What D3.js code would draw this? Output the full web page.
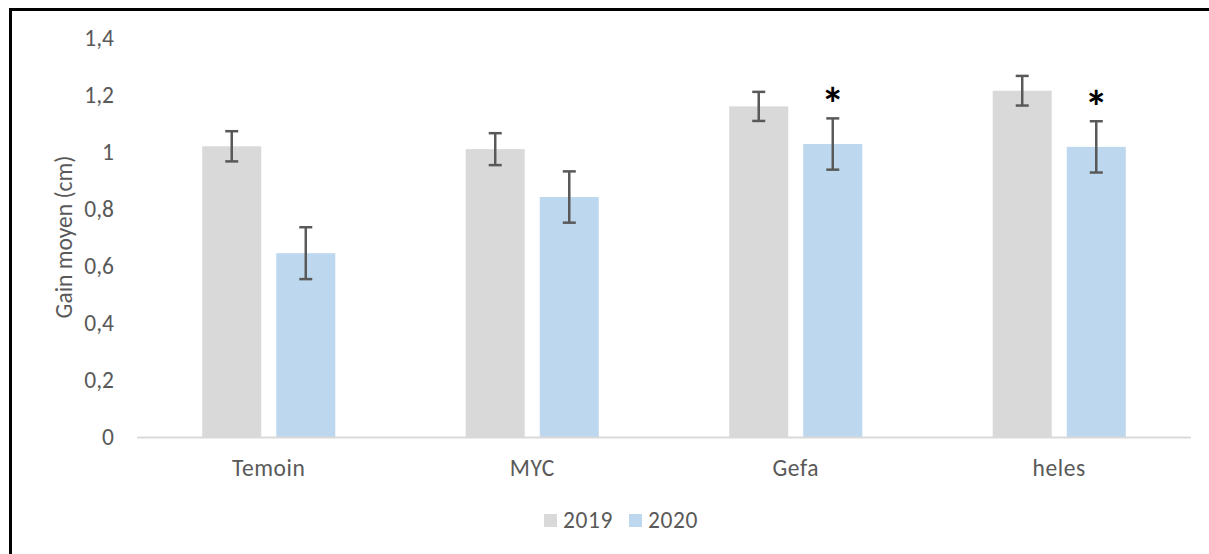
<!DOCTYPE html>
<html><head><meta charset="utf-8">
<script src="https://cdn.jsdelivr.net/npm/d3@7"></script>
<style>
html,body{margin:0;padding:0;background:#fff;overflow:hidden;}
svg{display:block;font-family:Carlito,Lato,"Open Sans",sans-serif;}
</style></head>
<body><svg id="c" width="1209" height="554"></svg>
<script>
const categories = ["Temoin", "MYC", "Gefa", "heles"];
const seriesNames = ["2019", "2020"];
const values2019 = [1.02, 1.01, 1.16, 1.215];
const values2020 = [0.645, 0.842, 1.028, 1.018];
const errors2019 = [0.053, 0.056, 0.051, 0.052];
const errors2020 = [0.091, 0.09, 0.09, 0.09];
const significant2020 = [false, false, true, true];
const yTicks = [0, 0.2, 0.4, 0.6, 0.8, 1, 1.2, 1.4];
const colors = ["#d9d9d9", "#bdd7ee"];

const svg = d3.select("#c");
const textCol = "#595959";
const fs = 23.5;

// outer frame (left and top edges visible)
svg.append("path").attr("d","M10.5,560 V9.5 H1220")
  .attr("fill","none").attr("stroke","#000").attr("stroke-width",3);

const y = d3.scaleLinear().domain([0,1.4]).range([437,38]);
const x = d3.scaleBand().domain(categories).range([137,1191]).paddingInner(0.495).paddingOuter(0.2475);
const xs = d3.scaleBand().domain(seriesNames).range([0,x.bandwidth()]).paddingInner(0.203);

// y tick labels
const fmt = v => d3.format("")(+v.toFixed(1)).replace(".", ",");
svg.append("g").selectAll("text").data(yTicks).join("text")
  .attr("x",114).attr("y",d=>y(d)).attr("dy","0.36em")
  .attr("text-anchor","end").attr("fill",textCol).attr("font-size",fs)
  .text(fmt);

// y label
svg.append("text").attr("transform","translate(72,237) rotate(-90)")
  .attr("text-anchor","middle").attr("fill",textCol).attr("font-size",fs)
  .text("Gain moyen (cm)");

// data rows
const rows = [];
categories.forEach((c,i)=>{
  rows.push({cat:c, s:"2019", v:values2019[i], e:errors2019[i], star:false, col:colors[0]});
  rows.push({cat:c, s:"2020", v:values2020[i], e:errors2020[i], star:significant2020[i], col:colors[1]});
});

svg.append("g").selectAll("rect").data(rows).join("rect")
  .attr("x",d=>x(d.cat)+xs(d.s)).attr("width",xs.bandwidth())
  .attr("y",d=>y(d.v)).attr("height",d=>y(0)-y(d.v)).attr("fill",d=>d.col);

// x axis line
svg.append("line").attr("x1",137).attr("x2",1191).attr("y1",437.5).attr("y2",437.5)
  .attr("stroke","#d9d9d9").attr("stroke-width",2);

// error bars
const eg = svg.append("g").attr("stroke","#595959").attr("stroke-width",2.5);
rows.forEach(d=>{
  const cx = x(d.cat)+xs(d.s)+xs.bandwidth()/2;
  const t = y(d.v+d.e), b = y(d.v-d.e);
  eg.append("line").attr("x1",cx).attr("x2",cx).attr("y1",t).attr("y2",b);
  eg.append("line").attr("x1",cx-6.5).attr("x2",cx+6.5).attr("y1",t).attr("y2",t);
  eg.append("line").attr("x1",cx-6.5).attr("x2",cx+6.5).attr("y1",b).attr("y2",b);
});

// stars
svg.append("g").selectAll("text").data(rows.filter(d=>d.star)).join("text")
  .attr("x",d=>x(d.cat)+xs(d.s)+xs.bandwidth()/2)
  .attr("y",d=>y(d.v+d.e)+2)
  .attr("text-anchor","middle").attr("font-size",46).attr("font-weight","bold").attr("fill","#000")
  .text("*");

// x labels
svg.append("g").selectAll("text").data(categories).join("text")
  .attr("x",d=>x(d)+x.bandwidth()/2).attr("y",476)
  .attr("text-anchor","middle").attr("fill",textCol).attr("font-size",fs)
  .attr("letter-spacing",0.6)
  .text(d=>d);

// legend
const legX = [544, 629];
const lg = svg.append("g");
seriesNames.forEach((s,i)=>{
  lg.append("rect").attr("x",legX[i]).attr("y",514).attr("width",13).attr("height",13).attr("fill",colors[i]);
  lg.append("text").attr("x",legX[i]+19).attr("y",528).attr("fill",textCol).attr("font-size",fs)
    .attr("letter-spacing",0.6).text(s);
});
</script></body></html>
